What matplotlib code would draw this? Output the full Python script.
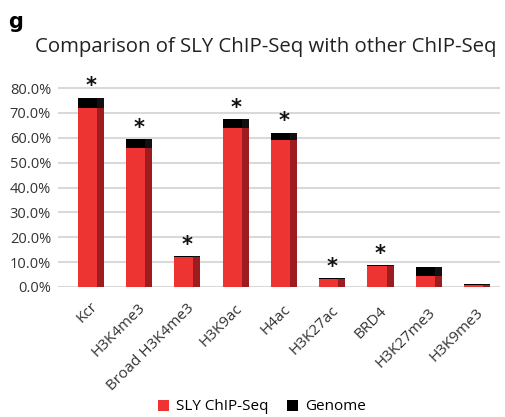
import matplotlib
matplotlib.use("Agg")
import matplotlib.pyplot as plt
from matplotlib.patches import Patch
import matplotlib.transforms as mtransforms

categories = ["Kcr", "H3K4me3", "Broad H3K4me3", "H3K9ac", "H4ac",
              "H3K27ac", "BRD4", "H3K27me3", "H3K9me3"]
sly_chipseq = [72.0, 56.0, 12.0, 64.0, 59.0, 3.3, 8.4, 4.5, 0.8]
genome = [4.0, 3.5, 0.4, 3.5, 3.0, 0.3, 0.3, 3.5, 0.3]
significant = [True, True, True, True, True, True, True, False, False]
yticks = [0, 10, 20, 30, 40, 50, 60, 70, 80]

plt.rcParams['font.family'] = ['Open Sans', 'DejaVu Sans']

W, H = 506, 417
fig = plt.figure(figsize=(W / 100, H / 100), dpi=100)
ax = fig.add_axes([58 / W, 1 - 287 / H, (500 - 58) / W, (287 - 80) / H])

red = "#ee3333"
red_side = "#9c1c20"
black = "#000000"
black_side = "#111111"

front_w = 0.394
side_w = 0.145
x = list(range(len(categories)))
left = [i - front_w / 2 for i in x]
side_left = [i + front_w / 2 for i in x]

ax.bar(left, sly_chipseq, width=front_w, align='edge', color=red, zorder=3)
ax.bar(left, genome, width=front_w, align='edge', bottom=sly_chipseq, color=black, zorder=3)
ax.bar(side_left, sly_chipseq, width=side_w, align='edge', color=red_side, zorder=3)
ax.bar(side_left, genome, width=side_w, align='edge', bottom=sly_chipseq, color=black_side, zorder=3)

for i, (s, g, sig) in enumerate(zip(sly_chipseq, genome, significant)):
    if sig:
        ax.text(i + side_w / 2, s + g + 0.6, "*", ha='center', va='bottom',
                fontsize=15, fontweight='bold', color='#111111', family='DejaVu Sans')

ax.set_xlim(-0.611, 8.549)
ax.set_ylim(0, 80 * 207 / 199)
ax.set_yticks(yticks)
ax.set_yticklabels([f"{v:.1f}%" for v in yticks], fontsize=10.5, color='#333333')
ax.yaxis.grid(True, color='#d9d9d9', linewidth=1.5, zorder=0)
ax.set_axisbelow(True)
for sp in ax.spines.values():
    sp.set_visible(False)
ax.tick_params(axis='y', length=0, pad=5)
ax.tick_params(axis='x', length=0)
ax.set_xticks([])

for i, c in enumerate(categories):
    off = mtransforms.offset_copy(ax.transData, fig=fig, x=0, y=-(12 + 0.8 * i) * 72 / 100, units='points')
    ax.text(i + 0.05, 0, c, transform=off, rotation=45, rotation_mode='anchor',
            ha='right', va='top', fontsize=11, color='#333333')

fig.text(35 / W, 1 - 52 / H, "Comparison of SLY ChIP-Seq with other ChIP-Seq",
         fontsize=14.7, va='baseline', ha='left', color='#222222')
fig.text(8 / W, 1 - 28 / H, "g", fontsize=15, fontweight='bold', va='baseline', ha='left',
         family='DejaVu Sans')

handles = [Patch(facecolor=red, label="SLY ChIP-Seq"), Patch(facecolor=black, label="Genome")]
fig.legend(handles=handles, loc='center', bbox_to_anchor=(262 / W, 1 - 407 / H), ncol=2,
           frameon=False, fontsize=11, handlelength=0.7, handleheight=0.7,
           handletextpad=0.5, columnspacing=1.2)

fig.savefig("out.png", dpi=100)
